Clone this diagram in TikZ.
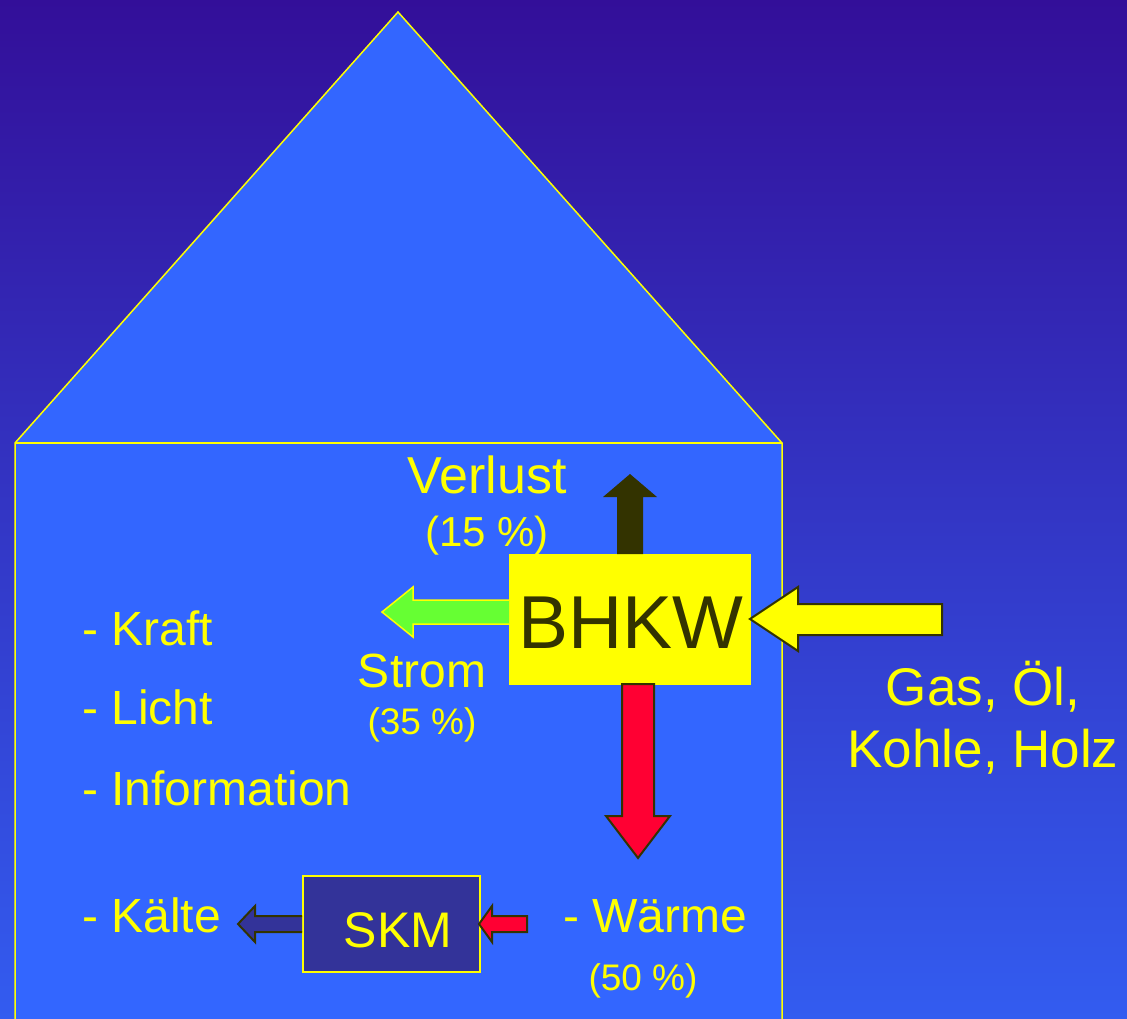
\documentclass[tikz,border=0pt]{standalone}
\usepackage{fontspec}
\setmainfont{Liberation Sans}
\definecolor{bgtop}{RGB}{51,15,153}
\definecolor{bgbot}{RGB}{51,92,240}
\definecolor{housefill}{RGB}{51,102,255}
\definecolor{olive}{RGB}{51,51,0}
\definecolor{stromgreen}{RGB}{102,255,51}
\definecolor{heatred}{RGB}{255,0,51}
\definecolor{skmblue}{RGB}{51,51,153}
\definecolor{ylw}{RGB}{255,255,0}
\tikzset{
  lbl/.style={inner sep=0pt, text=ylw},
  big/.style={font=\fontsize{48}{50}\selectfont},
  pct/.style={font=\fontsize{37}{40}\selectfont},
  barrow/.style={draw=olive, line width=2pt, line join=miter},
}
\begin{document}
\begin{tikzpicture}[x=1pt,y=-1pt]
\useasboundingbox (0,0) rectangle (1127,1019);
\shade[top color=bgtop, bottom color=bgbot] (0,0) rectangle (1127,1019);
% house
\fill[housefill] (15,443) -- (398,12) -- (782,443) -- (782,1019) -- (15,1019) -- cycle;
\draw[ylw, line width=1.5pt] (15,1019) -- (15,443) -- (398,12) -- (782,443) -- (782,1019);
\draw[ylw, line width=1.5pt] (15,443) -- (782,443);
% BHKW box
\node[fill=ylw, minimum width=242pt, minimum height=131pt, inner sep=0pt, anchor=north west,
      text=olive, font=\fontsize{75}{78}\selectfont] (bhkw) at (509,554) {};
\node[inner sep=0pt, anchor=base, text=olive, font=\fontsize{75}{78}\selectfont] (bhkwtxt) at (631,648) {BHKW};
% Verlust arrow (up)
\fill[olive] (617,554) -- (617,497) -- (603,497) -- (630,474) -- (657,497) -- (643,497) -- (643,554) -- cycle;
% Strom arrow (left)
\filldraw[fill=stromgreen, draw=ylw, line width=1.5pt] (509,600) -- (413,600) -- (413,587) -- (382,612) -- (413,637) -- (413,624) -- (509,624);
% input arrow (left into BHKW)
\filldraw[fill=ylw, barrow] (942,604) -- (798,604) -- (798,587) -- (750,619) -- (798,651) -- (798,635) -- (942,635) -- cycle;
% heat arrow (down)
\filldraw[fill=heatred, barrow] (622,684) -- (622,816) -- (606,816) -- (638,858) -- (670,816) -- (654,816) -- (654,684) -- cycle;
% SKM box
\node[fill=skmblue, draw=ylw, line width=1.5pt, minimum width=177pt, minimum height=96pt, inner sep=0pt, anchor=north west] (skm) at (302,875) {};
\node[lbl, anchor=base, font=\fontsize{50}{52}\selectfont] (skmtxt) at (398,947) {SKM};
% small red arrow into SKM
\filldraw[fill=heatred, barrow] (527,916) -- (492,916) -- (492,906) -- (479,924) -- (492,942) -- (492,932) -- (527,932) -- cycle;
% blue arrow out of SKM
\filldraw[fill=skmblue, barrow] (302,916) -- (255,916) -- (255,906) -- (238,924) -- (255,942) -- (255,932) -- (302,932);
% texts
\node[lbl, anchor=base, font=\fontsize{52}{54}\selectfont] (verlust) at (487,493) {Verlust};
\node[lbl, anchor=base, font=\fontsize{42}{44}\selectfont] (p15) at (487,546) {(15 \%)};
\node[lbl, anchor=base, big] (strom) at (422,687) {Strom};
\node[lbl, anchor=base, pct] (p35) at (422,734) {(35 \%)};
\node[lbl, anchor=base west, big] (kraft) at (82,645) {- Kraft};
\node[lbl, anchor=base west, big] (licht) at (82,724) {- Licht};
\node[lbl, anchor=base west, big] (info) at (82,805) {- Information};
\node[lbl, anchor=base west, big] (kaelte) at (82,932) {- Kälte};
\node[lbl, anchor=base west, big] (waerme) at (563,932) {- Wärme};
\node[lbl, anchor=base, pct] (p50) at (643,990) {(50 \%)};
\node[lbl, anchor=base, font=\fontsize{53}{55}\selectfont] (gas) at (983,705) {Gas, Öl,};
\node[lbl, anchor=base, font=\fontsize{53}{55}\selectfont] (kohle) at (983,767) {Kohle, Holz};
\end{tikzpicture}
\end{document}
